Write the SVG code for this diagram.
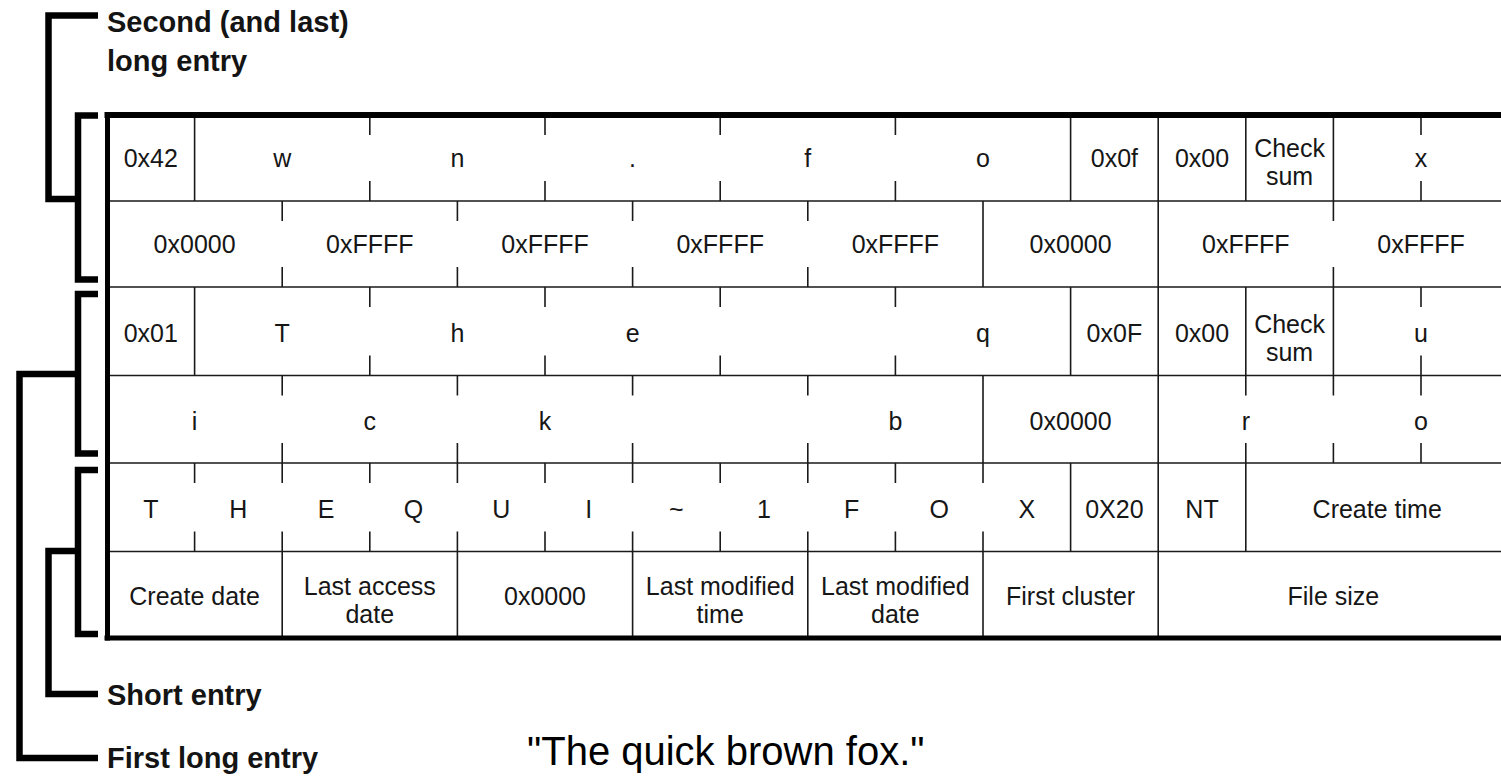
<svg xmlns="http://www.w3.org/2000/svg" width="1501" height="781" viewBox="0 0 1501 781">
  <style>
    .grid { fill: none; stroke: #1a1a1a; stroke-width: 1.6; }
    .frame { fill: none; stroke: #000; stroke-linecap: butt; }
    .bracket { fill: none; stroke: #000; stroke-width: 6.5; stroke-linejoin: miter; stroke-linecap: butt; }
    .cell { font-family: "Liberation Sans", Arial, sans-serif; font-size: 25px; fill: #161616; text-anchor: middle; }
    .label { font-family: "Liberation Sans", Arial, sans-serif; font-size: 29px; font-weight: bold; fill: #141414; }
    .caption { font-family: "Liberation Sans", Arial, sans-serif; font-size: 40px; fill: #000; }
  </style>
  <rect width="1501" height="781" fill="#fff"/>

  <!-- table grid: row separators, full cell dividers, half-height ticks -->
  <g id="table-grid">
    <path class="grid" d="M107 201H1501M107 287H1501M107 375.5H1501M107 463H1501M107 551.5H1501"/>
    <!-- full-height dividers -->
    <path class="grid" d="
      M194.6 115V201M1070.6 115V201M1158.2 115V201M1245.8 115V201M1333.4 115V201
      M983 201V287M1158.2 201V287
      M194.6 287V375.5M1070.6 287V375.5M1158.2 287V375.5M1245.8 287V375.5M1333.4 287V375.5
      M983 375.5V463M1158.2 375.5V463
      M1070.6 463V551.5M1158.2 463V551.5M1245.8 463V551.5
      M282.2 551.5V638M457.4 551.5V638M632.6 551.5V638M807.8 551.5V638M983 551.5V638M1158.2 551.5V638"/>
    <!-- ticks (top and bottom of a row) -->
    <path class="grid" d="
      M369.8 115V135M369.8 181V201M545 115V135M545 181V201M720.2 115V135M720.2 181V201M895.4 115V135M895.4 181V201M1421 115V135M1421 181V201
      M282.2 201V221M282.2 267V287M457.4 201V221M457.4 267V287M632.6 201V221M632.6 267V287M807.8 201V221M807.8 267V287M1333.4 201V221M1333.4 267V287
      M369.8 287V307M369.8 355.5V375.5M545 287V307M545 355.5V375.5M720.2 287V307M720.2 355.5V375.5M895.4 287V307M895.4 355.5V375.5M1421 287V307M1421 355.5V375.5
      M282.2 375.5V395.5M282.2 443V463M457.4 375.5V395.5M457.4 443V463M632.6 375.5V395.5M632.6 443V463M807.8 375.5V395.5M807.8 443V463
      M1245.8 375.5V395.5M1245.8 443V463M1333.4 375.5V395.5M1333.4 443V463M1421 375.5V395.5M1421 443V463
      M194.6 463V483M194.6 531.5V551.5M282.2 463V483M282.2 531.5V551.5M369.8 463V483M369.8 531.5V551.5M457.4 463V483M457.4 531.5V551.5
      M545 463V483M545 531.5V551.5M632.6 463V483M632.6 531.5V551.5M720.2 463V483M720.2 531.5V551.5M807.8 463V483M807.8 531.5V551.5
      M895.4 463V483M895.4 531.5V551.5M983 463V483M983 531.5V551.5"/>
    <!-- heavy outer frame -->
    <path class="frame" stroke-width="6" d="M104.5 115H1501"/>
    <path class="frame" stroke-width="5" d="M104.5 638H1501"/>
    <path class="frame" stroke-width="5" d="M107.5 112V640.5"/>
  </g>

  <!-- long entry 2, slot 1 -->
  <g id="row-lfn2-a">
    <text class="cell" x="150.8" y="167">0x42</text>
    <text class="cell" x="282.2" y="167">w</text>
    <text class="cell" x="457.4" y="167">n</text>
    <text class="cell" x="632.6" y="167">.</text>
    <text class="cell" x="807.8" y="167">f</text>
    <text class="cell" x="983" y="167">o</text>
    <text class="cell" x="1114.4" y="167">0x0f</text>
    <text class="cell" x="1202" y="167">0x00</text>
    <text class="cell" x="1289.6" y="157">Check</text>
    <text class="cell" x="1289.6" y="185">sum</text>
    <text class="cell" x="1421" y="167">x</text>
  </g>

  <!-- long entry 2, slot 2 -->
  <g id="row-lfn2-b">
    <text class="cell" x="194.6" y="253">0x0000</text>
    <text class="cell" x="369.8" y="253">0xFFFF</text>
    <text class="cell" x="545" y="253">0xFFFF</text>
    <text class="cell" x="720.2" y="253">0xFFFF</text>
    <text class="cell" x="895.4" y="253">0xFFFF</text>
    <text class="cell" x="1070.6" y="253">0x0000</text>
    <text class="cell" x="1245.8" y="253">0xFFFF</text>
    <text class="cell" x="1421" y="253">0xFFFF</text>
  </g>

  <!-- long entry 1, slot 1 -->
  <g id="row-lfn1-a">
    <text class="cell" x="150.8" y="342">0x01</text>
    <text class="cell" x="282.2" y="342">T</text>
    <text class="cell" x="457.4" y="342">h</text>
    <text class="cell" x="632.6" y="342">e</text>
    <text class="cell" x="983" y="342">q</text>
    <text class="cell" x="1114.4" y="342">0x0F</text>
    <text class="cell" x="1202" y="342">0x00</text>
    <text class="cell" x="1289.6" y="333">Check</text>
    <text class="cell" x="1289.6" y="361">sum</text>
    <text class="cell" x="1421" y="342">u</text>
  </g>

  <!-- long entry 1, slot 2 -->
  <g id="row-lfn1-b">
    <text class="cell" x="194.6" y="430">i</text>
    <text class="cell" x="369.8" y="430">c</text>
    <text class="cell" x="545" y="430">k</text>
    <text class="cell" x="895.4" y="430">b</text>
    <text class="cell" x="1070.6" y="430">0x0000</text>
    <text class="cell" x="1245.8" y="430">r</text>
    <text class="cell" x="1421" y="430">o</text>
  </g>

  <!-- short entry, slot 1 -->
  <g id="row-sfn-a">
    <text class="cell" x="150.8" y="518">T</text>
    <text class="cell" x="238.4" y="518">H</text>
    <text class="cell" x="326" y="518">E</text>
    <text class="cell" x="413.6" y="518">Q</text>
    <text class="cell" x="501.2" y="518">U</text>
    <text class="cell" x="588.8" y="518">I</text>
    <text class="cell" x="676.4" y="518">~</text>
    <text class="cell" x="764" y="518">1</text>
    <text class="cell" x="851.6" y="518">F</text>
    <text class="cell" x="939.2" y="518">O</text>
    <text class="cell" x="1026.8" y="518">X</text>
    <text class="cell" x="1114.4" y="518">0X20</text>
    <text class="cell" x="1202" y="518">NT</text>
    <text class="cell" x="1377.2" y="518">Create time</text>
  </g>

  <!-- short entry, slot 2 -->
  <g id="row-sfn-b">
    <text class="cell" x="194.6" y="605">Create date</text>
    <text class="cell" x="369.8" y="595">Last access</text>
    <text class="cell" x="369.8" y="623">date</text>
    <text class="cell" x="545" y="605">0x0000</text>
    <text class="cell" x="720.2" y="595">Last modified</text>
    <text class="cell" x="720.2" y="623">time</text>
    <text class="cell" x="895.4" y="595">Last modified</text>
    <text class="cell" x="895.4" y="623">date</text>
    <text class="cell" x="1070.6" y="605">First cluster</text>
    <text class="cell" x="1333.4" y="605">File size</text>
  </g>

  <!-- brackets grouping the slots into entries -->
  <g id="connectors">
    <path class="bracket" d="M98 115.5H78V279.5H98"/>
    <path class="bracket" d="M98 294H78V453.5H98"/>
    <path class="bracket" d="M98 470H78V634H98"/>
    <path class="bracket" d="M98 15.5H48.5V199H78"/>
    <path class="bracket" d="M78 374H19.5V758H98"/>
    <path class="bracket" d="M78 551H48.5V694H98"/>
  </g>

  <g id="label-second-long">
    <text class="label" x="107" y="32">Second (and last)</text>
    <text class="label" x="107" y="71">long entry</text>
  </g>
  <g id="label-short">
    <text class="label" x="107" y="705">Short entry</text>
  </g>
  <g id="label-first-long">
    <text class="label" x="107" y="768">First long entry</text>
  </g>

  <g id="caption">
    <text class="caption" x="527" y="765">"The quick brown fox."</text>
  </g>
</svg>
